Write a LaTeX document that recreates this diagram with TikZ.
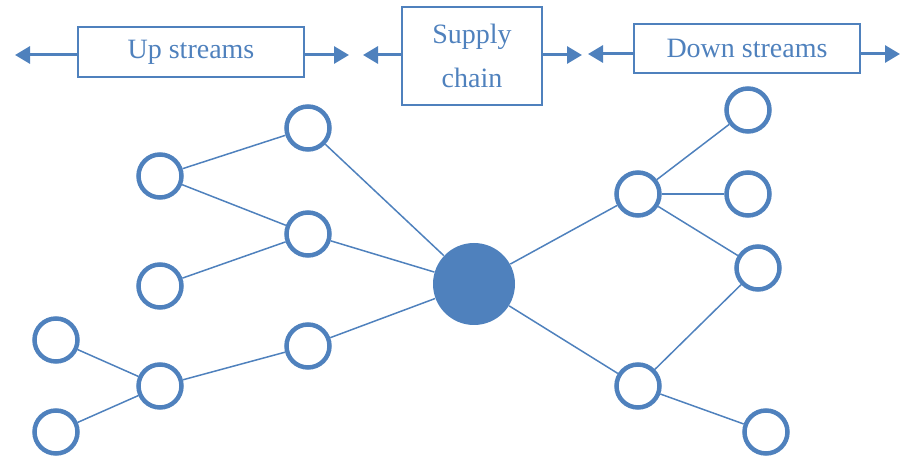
\documentclass[tikz,border=0pt]{standalone}
\usepackage{fontspec}
\setmainfont{Liberation Serif}
\usetikzlibrary{arrows.meta}
\definecolor{chainblue}{RGB}{79,129,189}

\begin{document}
\begin{tikzpicture}[x=0.5pt,y=-0.5pt,
        every node/.style={text=chainblue},
        lbl/.style={draw=chainblue,line width=0.6pt,inner sep=0pt,
            font=\fontsize{14}{16}\selectfont},
        ring/.style={circle,draw=chainblue,line width=2.25pt,
            minimum size=21.5pt,inner sep=0pt},
        hub/.style={circle,fill=chainblue,minimum size=41pt,inner sep=0pt},
        link/.style={chainblue,line width=0.75pt},
        flow/.style={chainblue,line width=1.5pt,
            -{Triangle[length=7.5pt,width=8.5pt]}}]
                \useasboundingbox (0,0) rectangle (901,459);

                % labels on top
                \node[lbl,minimum width=113pt,minimum height=25pt] (up) at (191,52) {Up streams};
                \node[lbl,minimum width=70pt,minimum height=49pt,align=center] (sc) at (472,56) {Supply\\[6pt]chain};
                \node[lbl,minimum width=113pt,minimum height=24.5pt] (down) at (747,48.5) {Down streams};

                \coordinate (upL) at (15,55);
                \coordinate (upR) at (349,55);
                \coordinate (scL) at (363,55);
                \coordinate (scR) at (582,55);
                \coordinate (dnL) at (588,54);
                \coordinate (dnR) at (900,54);

                \draw[flow] (up.west |- upL) -- (upL);
                \draw[flow] (up.east |- upR) -- (upR);
                \draw[flow] (sc.west |- scL) -- (scL);
                \draw[flow] (sc.east |- scR) -- (scR);
                \draw[flow] (down.west |- dnL) -- (dnL);
                \draw[flow] (down.east |- dnR) -- (dnR);

                % the network
                \node[hub] (hub) at (474,284) {};

                \node[ring] (u1) at (308,128) {};
                \node[ring] (u2) at (160,176) {};
                \node[ring] (u3) at (308,234) {};
                \node[ring] (u4) at (160,286) {};
                \node[ring] (u5) at (308,346) {};
                \node[ring] (u6) at (56,340) {};
                \node[ring] (u7) at (160,386) {};
                \node[ring] (u8) at (56,432) {};

                \node[ring] (d1) at (638,194) {};
                \node[ring] (d2) at (748,110) {};
                \node[ring] (d3) at (748,194) {};
                \node[ring] (d4) at (758,268) {};
                \node[ring] (d5) at (638,386) {};
                \node[ring] (d6) at (766,432) {};

                \draw[link] (u1) -- (u2);
                \draw[link] (u3) -- (u2);
                \draw[link] (u3) -- (u4);
                \draw[link] (u1) -- (hub);
                \draw[link] (u3) -- (hub);
                \draw[link] (u5) -- (hub);
                \draw[link] (u5) -- (u7);
                \draw[link] (u7) -- (u6);
                \draw[link] (u7) -- (u8);

                \draw[link] (hub) -- (d1);
                \draw[link] (d1) -- (d2);
                \draw[link] (d1) -- (d3);
                \draw[link] (d1) -- (d4);
                \draw[link] (hub) -- (d5);
                \draw[link] (d5) -- (d4);
                \draw[link] (d5) -- (d6);
            \end{tikzpicture}
\end{document}
